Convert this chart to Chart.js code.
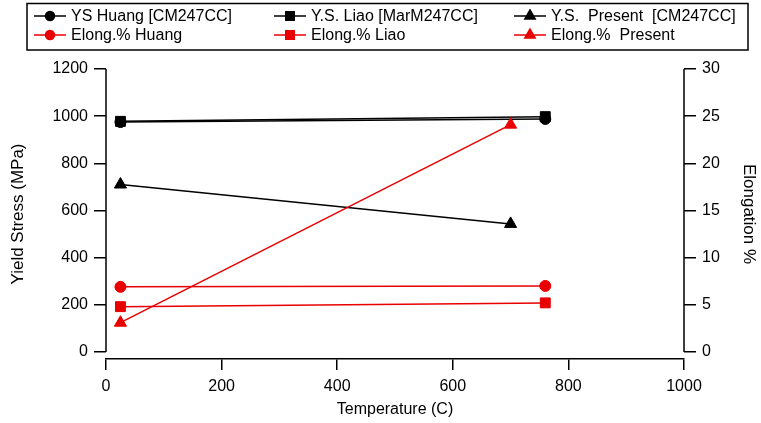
<!DOCTYPE html>
<html>
<head>
<meta charset="utf-8">
<script src="https://cdn.jsdelivr.net/npm/chart.js@4.4.1/dist/chart.umd.min.js"></script>
<style>
  html, body { margin: 0; padding: 0; background: #fff; }
  #wrap { width: 761px; height: 423px; }
</style>
</head>
<body>
<div id="wrap"><canvas id="chart" width="761" height="423"></canvas></div>
<script>
// temperatures (C)
const tempsRef = [25, 760];
const tempsPresent = [25, 700];

// yield stress (MPa)
const ysHuang = [975, 988];
const ysLiao = [978, 998];
const ysPresent = [710, 543];

// elongation %
const elHuang = [6.9, 7.0];
const elLiao = [4.8, 5.2];
const elPresent = [3.1, 24.1];

const xTicks = [0, 200, 400, 600, 800, 1000];
const yTicks = [0, 200, 400, 600, 800, 1000, 1200];
const y2Ticks = [0, 5, 10, 15, 20, 25, 30];

const labels = ['YS Huang [CM247CC]', 'Y.S. Liao [MarM247CC]', 'Y.S.  Present  [CM247CC]',
                'Elong.% Huang', 'Elong.% Liao', 'Elong.%  Present'];

const BLACK = '#000';
const RED = 'rgb(232,0,0)';

function pts(xs, ys) {
  return xs.map((x, i) => ({ x: x, y: ys[i] }));
}

function series(label, xs, ys, color, style, r, axis) {
  return {
    label: label,
    data: pts(xs, ys),
    yAxisID: axis,
    borderColor: color,
    backgroundColor: color,
    borderWidth: 1.5,
    pointStyle: style,
    pointRadius: r,
    pointHoverRadius: r,
    pointBorderWidth: 1,
    pointBorderColor: color,
    pointBackgroundColor: color
  };
}

const datasets = [
  series(labels[3], tempsRef, elHuang, RED, 'circle', 5.5, 'y2'),
  series(labels[4], tempsRef, elLiao, RED, 'rect', 7, 'y2'),
  series(labels[5], tempsPresent, elPresent, RED, 'triangle', 7, 'y2'),
  series(labels[0], tempsRef, ysHuang, BLACK, 'circle', 5.5, 'y'),
  series(labels[1], tempsRef, ysLiao, BLACK, 'rect', 7, 'y'),
  series(labels[2], tempsPresent, ysPresent, BLACK, 'triangle', 7, 'y')
];

// legend box on top, 3 columns x 2 rows
const legendBox = {
  id: 'legendBox',
  afterDraw(chart) {
    const ctx = chart.ctx;
    ctx.save();
    ctx.strokeStyle = '#000';
    ctx.lineWidth = 1.5;
    ctx.strokeRect(27, 3.5, 721, 46.5);
    const cols = [34, 274, 514];
    const rows = [16, 35];
    const order = [3, 4, 5, 0, 1, 2]; // dataset index for each legend slot
    ctx.font = '16px "Liberation Sans", Arial, sans-serif';
    ctx.textBaseline = 'middle';
    order.forEach((di, k) => {
      const ds = chart.data.datasets[di];
      const cx = cols[k % 3];
      const cy = rows[Math.floor(k / 3)];
      ctx.strokeStyle = ds.borderColor;
      ctx.lineWidth = 1.5;
      ctx.beginPath();
      ctx.moveTo(cx, cy);
      ctx.lineTo(cx + 32, cy);
      ctx.stroke();
      ctx.fillStyle = ds.borderColor;
      Chart.helpers.drawPoint(ctx, {
        pointStyle: ds.pointStyle,
        radius: ds.pointStyle === 'circle' ? 4.5 : 6,
        rotation: 0,
        borderWidth: 1
      }, cx + 16, cy);
      ctx.fillStyle = '#000';
      ctx.fillText(ds.label, cx + 37, cy + 1);
    });
    ctx.restore();
  }
};

// y axis lines end at zero, x axis sits a little below
const axisLines = {
  id: 'axisLines',
  afterDraw(chart) {
    const ctx = chart.ctx;
    const y = chart.scales.y, y2 = chart.scales.y2;
    ctx.save();
    ctx.strokeStyle = '#000';
    ctx.lineWidth = 1.5;
    ctx.beginPath();
    ctx.moveTo(y.right, y.getPixelForValue(1200));
    ctx.lineTo(y.right, y.getPixelForValue(0));
    ctx.moveTo(y2.left, y2.getPixelForValue(30));
    ctx.lineTo(y2.left, y2.getPixelForValue(0));
    ctx.stroke();
    ctx.restore();
  }
};

const tickFont = { family: '"Liberation Sans", Arial, sans-serif', size: 16 };
const plain = v => String(v);

new Chart(document.getElementById('chart'), {
  type: 'line',
  data: { datasets: datasets },
  options: {
    responsive: false,
    animation: false,
    layout: { padding: { top: 69, left: 0, right: 0, bottom: 0 } },
    plugins: { legend: { display: false }, tooltip: { enabled: false } },
    scales: {
      x: {
        type: 'linear',
        min: 0,
        max: 1000,
        afterBuildTicks: s => { s.ticks = xTicks.map(v => ({ value: v })); },
        afterFit: s => { s.height = 64; },
        ticks: { font: tickFont, color: '#000', padding: 7, maxRotation: 0, callback: plain },
        grid: { drawOnChartArea: false, drawTicks: true, tickLength: 11, color: '#000', lineWidth: 1.5 },
        border: { display: true, color: '#000', width: 1.5 },
        title: { display: true, text: 'Temperature (C)', font: tickFont, color: '#000', padding: { top: 2, bottom: 4 } }
      },
      y: {
        position: 'left',
        min: -30,
        max: 1200,
        afterBuildTicks: s => { s.ticks = yTicks.map(v => ({ value: v })); },
        afterFit: s => { s.width = 106; },
        ticks: { font: tickFont, color: '#000', padding: 6, callback: plain },
        grid: { drawOnChartArea: false, drawTicks: true, tickLength: 12, color: '#000', lineWidth: 1.5 },
        border: { display: false },
        title: { display: true, text: 'Yield Stress (MPa)', font: { family: tickFont.family, size: 17 }, color: '#000', padding: { top: 8, bottom: 0 } }
      },
      y2: {
        position: 'right',
        min: -0.75,
        max: 30,
        afterBuildTicks: s => { s.ticks = y2Ticks.map(v => ({ value: v })); },
        afterFit: s => { s.width = 77; },
        ticks: { font: tickFont, color: '#000', padding: 6, callback: plain },
        grid: { drawOnChartArea: false, drawTicks: true, tickLength: 12, color: '#000', lineWidth: 1.5 },
        border: { display: false },
        title: { display: true, text: 'Elongation %', font: { family: tickFont.family, size: 17 }, color: '#000', padding: { top: 2, bottom: 0 } }
      }
    }
  },
  plugins: [legendBox, axisLines]
});
</script>
</body>
</html>
